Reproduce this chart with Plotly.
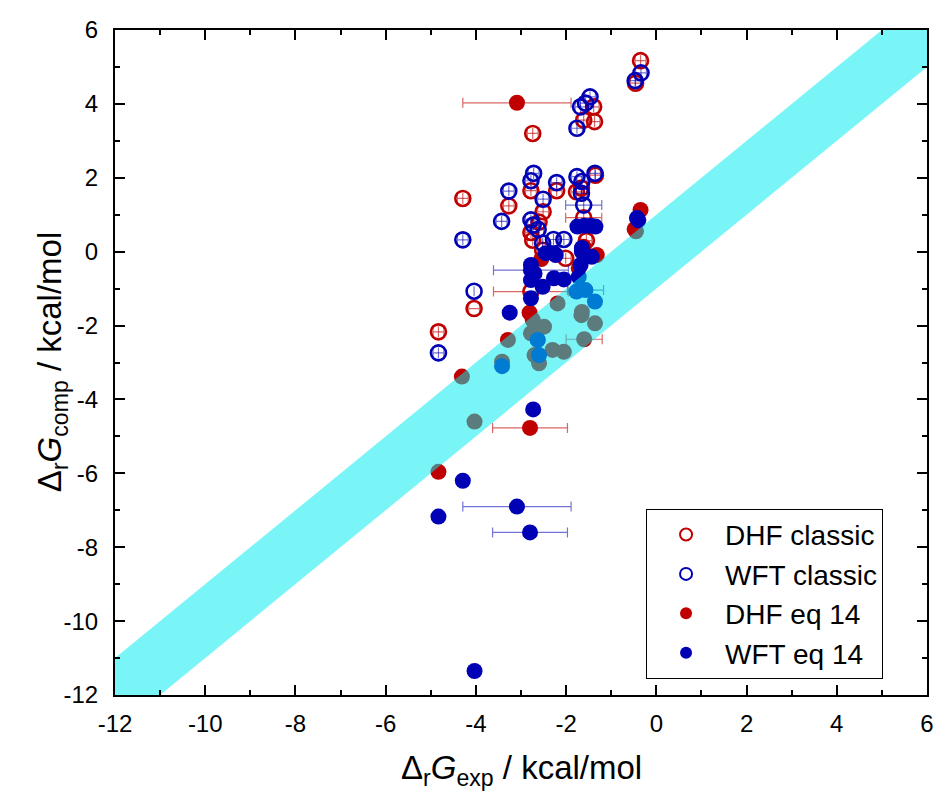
import plotly.graph_objects as go

# ---------------- data ----------------
dhf_classic_x = [-0.35, -0.46, -1.39, -1.37, -1.61, -2.74, -1.35, -2.78, -2.21, -1.77, -1.66,
                 -3.27, -4.29, -1.61, -2.51, -2.78, -2.74, -2.52, -2.01, -2.78, -4.04, -4.83,
                 -2.60, -1.55]
dhf_classic_y = [5.17, 4.56, 3.92, 3.52, 3.56, 3.20, 2.07, 1.65, 1.65, 1.62, 1.72,
                 1.24, 1.44, 0.92, 1.08, 0.52, 0.31, 0.04, -0.18, -1.08, -1.54, -2.17,
                 0.80, 0.30]
dhf_classic_xerr = [0.12, 0.12, 0.12, 0.12, 0.12, 0.12, 0.12, 0.12, 0.12, 0.12, 0.12,
                    0.12, 0.12, 0.40, 0.12, 0.12, 0.12, 0.12, 0.12, 0.83, 0.12, 0.12,
                    0.12, 0.12]
dhf_classic_yerr = [0.15, 0.15, 0.15, 0.15, 0.15, 0.15, 0.15, 0.15, 0.15, 0.15, 0.15,
                    0.15, 0.15, 0.15, 0.15, 0.15, 0.15, 0.15, 0.15, 0.0, 0.0, 0.15,
                    0.15, 0.15]

wft_classic_x = [-0.34, -0.47, -1.47, -1.57, -1.68, -1.76, -1.36, -2.72, -2.78, -2.21, -1.76,
                 -1.65, -1.66, -3.27, -2.51, -1.61, -3.43, -4.29, -2.78, -2.73, -2.52, -2.28,
                 -2.05, -4.04, -4.83, -2.62]
wft_classic_y = [4.84, 4.63, 4.19, 4.02, 3.92, 3.34, 2.12, 2.12, 1.92, 1.87, 2.03,
                 1.90, 1.58, 1.64, 1.42, 1.26, 0.82, 0.32, 0.86, 0.72, 0.23, 0.33,
                 0.33, -1.07, -2.74, 0.60]
wft_classic_xerr = [0.12, 0.12, 0.12, 0.12, 0.12, 0.12, 0.12, 0.12, 0.12, 0.12, 0.12,
                    0.12, 0.12, 0.12, 0.12, 0.40, 0.12, 0.12, 0.12, 0.12, 0.12, 0.12,
                    0.12, 0.0, 0.12, 0.12]
wft_classic_yerr = [0.15, 0.15, 0.15, 0.15, 0.15, 0.15, 0.15, 0.15, 0.15, 0.15, 0.15,
                    0.15, 0.15, 0.15, 0.15, 0.15, 0.15, 0.15, 0.15, 0.15, 0.15, 0.15,
                    0.15, 0.0, 0.15, 0.15]

dhf_eq14_x = [-3.09, -0.35, -0.48, -1.61, -1.32, -1.72, -2.81, -3.29, -4.31, -4.83, -2.80,
              -2.19, -1.65, -1.66, -1.36, -1.60, -2.74, -2.49, -2.78, -2.63, -2.30, -2.05,
              -2.60, -2.70, -4.03, -3.42, -0.45, -2.55]
dhf_eq14_y = [4.03, 1.13, 0.61, 0.13, -0.09, -0.45, -1.65, -2.39, -3.38, -5.96, -4.77,
              -1.40, -1.63, -1.72, -1.94, -2.37, -1.85, -2.03, -2.21, -2.39, -2.66, -2.71,
              -3.02, -2.80, -4.60, -2.98, 0.55, -0.20]
dhf_eq14_xerr = [1.20, 0, 0, 0, 0, 0, 0, 0, 0, 0, 0.83,
                 0, 0, 0, 0, 0.40, 0, 0, 0, 0, 0, 0,
                 0, 0, 0, 0, 0, 0]

wft_eq14_x = [-0.43, -0.40, -1.75, -1.60, -1.45, -1.35, -2.78, -2.70, -2.78, -2.78, -2.52,
              -2.27, -2.05, -2.23, -1.65, -1.43, -1.68, -1.72, -2.78, -3.25, -1.77, -1.57,
              -1.36, -2.63, -2.60, -3.42, -2.73, -4.29, -3.09, -4.83, -2.80, -4.03, -2.45,
              -2.27, -1.65]
wft_eq14_y = [0.91, 0.85, 0.68, 0.70, 0.70, 0.68, -0.36, -0.59, -0.77, -1.26, -0.95,
              -0.72, -0.75, -0.09, 0.00, -0.14, -0.36, -0.68, -0.50, -1.65, -1.08, -1.04,
              -1.35, -2.39, -2.80, -3.10, -4.27, -6.20, -6.90, -7.17, -7.60, -11.35, -0.04,
              -0.04, 0.10]
wft_eq14_xerr = [0, 0, 0, 0, 0, 0, 0, 0, 0, 0, 0,
                 0, 0, 0, 0, 0, 0, 0, 0.83, 0, 0, 0.40,
                 0, 0, 0, 0, 0, 0, 1.20, 0, 0.83, 0, 0,
                 0, 0]

band_x = [-13, 7]
band_halfwidth = 1.0

tick_vals = [-12, -10, -8, -6, -4, -2, 0, 2, 4, 6]
tick_text = ["-12", "-10", "-8", "-6", "-4", "-2", "0", "2", "4", "6"]

x_title = "Δ<sub>r</sub><i>G</i><sub>exp</sub> / kcal/mol"
y_title = "Δ<sub>r</sub><i>G</i><sub>comp</sub> / kcal/mol"

RED = "#c00000"
BLUE = "#0000b4"
RED_ERR = "rgba(192,0,0,0.6)"
BLUE_ERR = "rgba(0,0,180,0.55)"
FONT = "Liberation Sans, Arial, sans-serif"

fig = go.Figure()

fig.add_trace(go.Scatter(
    x=dhf_classic_x, y=dhf_classic_y, mode="markers", name="DHF classic",
    marker=dict(symbol="circle-open", size=15, color=RED, line=dict(width=2.6, color=RED)),
    error_x=dict(type="data", array=dhf_classic_xerr, color=RED_ERR, thickness=1.2, width=5),
    error_y=dict(type="data", array=dhf_classic_yerr, color=RED_ERR, thickness=1.2, width=0),
))
fig.add_trace(go.Scatter(
    x=wft_classic_x, y=wft_classic_y, mode="markers", name="WFT classic",
    marker=dict(symbol="circle-open", size=15, color=BLUE, line=dict(width=2.6, color=BLUE)),
    error_x=dict(type="data", array=wft_classic_xerr, color=BLUE_ERR, thickness=1.2, width=5),
    error_y=dict(type="data", array=wft_classic_yerr, color=BLUE_ERR, thickness=1.2, width=0),
))
fig.add_trace(go.Scatter(
    x=dhf_eq14_x, y=dhf_eq14_y, mode="markers", name="DHF eq 14",
    marker=dict(symbol="circle", size=16, color=RED),
    error_x=dict(type="data", array=dhf_eq14_xerr, color=RED_ERR, thickness=1.2, width=5),
))
fig.add_trace(go.Scatter(
    x=wft_eq14_x, y=wft_eq14_y, mode="markers", name="WFT eq 14",
    marker=dict(symbol="circle", size=16, color=BLUE),
    error_x=dict(type="data", array=wft_eq14_xerr, color=BLUE_ERR, thickness=1.2, width=5),
))

# translucent band y = x +/- 1 drawn over the points
bx = [band_x[0], band_x[1], band_x[1], band_x[0], band_x[0]]
by = [band_x[0] + band_halfwidth, band_x[1] + band_halfwidth,
      band_x[1] - band_halfwidth, band_x[0] - band_halfwidth, band_x[0] + band_halfwidth]
fig.add_trace(go.Scatter(
    x=bx, y=by, mode="lines", fill="toself", fillcolor="rgba(0,235,240,0.52)",
    line=dict(width=0), showlegend=False, hoverinfo="skip",
))

axis_common = dict(
    range=[-12, 6], tickvals=tick_vals, ticktext=tick_text,
    showgrid=False, zeroline=False, showline=True, linecolor="black", linewidth=2,
    mirror="ticks", ticks="inside", ticklen=10, tickwidth=2, tickcolor="black",
    tickfont=dict(family=FONT, size=24, color="black"),
    minor=dict(ticks="inside", ticklen=5, tickwidth=2, tickcolor="black", dtick=1),
)

fig.update_layout(
    width=934, height=784,
    paper_bgcolor="white", plot_bgcolor="white",
    margin=dict(l=107, r=8, t=22, b=97),
    font=dict(family=FONT, color="black"),
    xaxis=dict(ticklabelstandoff=6, **axis_common),
    yaxis=dict(ticklabelstandoff=10, **axis_common),
    legend=dict(x=0.654, y=0.28, xanchor="left", yanchor="top",
                bgcolor="white", bordercolor="black", borderwidth=1,
                font=dict(size=28), itemsizing="constant", itemwidth=68,
                tracegroupgap=0),
    annotations=[
        dict(text=x_title, xref="paper", yref="paper", x=0.5, y=-0.113,
             xanchor="center", yanchor="middle", showarrow=False,
             font=dict(family=FONT, size=33, color="black")),
        dict(text=y_title, xref="paper", yref="paper", x=-0.078, y=0.5,
             xanchor="center", yanchor="middle", textangle=-90, showarrow=False,
             font=dict(family=FONT, size=33, color="black")),
    ],
)

fig.write_html("out.html")
